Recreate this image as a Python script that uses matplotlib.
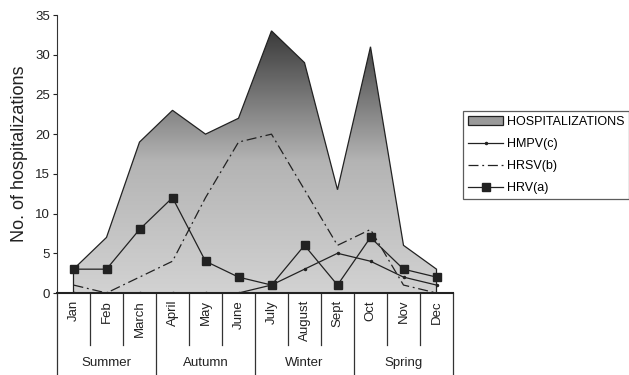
import numpy as np
import matplotlib.pyplot as plt
from matplotlib.patches import Polygon, Patch
from matplotlib.lines import Line2D
from matplotlib.colors import LinearSegmentedColormap
import matplotlib.transforms as mtransforms

plt.rcParams['font.family'] = ['Liberation Sans', 'DejaVu Sans']

months = ['Jan', 'Feb', 'March', 'April', 'May', 'June', 'July', 'August',
          'Sept', 'Oct', 'Nov', 'Dec']
seasons = ['Summer', 'Autumn', 'Winter', 'Spring']
hospitalizations = [3, 7, 19, 23, 20, 22, 33, 29, 13, 31, 6, 3]
hmpv = [0, 0, 0, 0, 0, 0, 1, 3, 5, 4, 2, 1]
hrsv = [1, 0, 2, 4, 12, 19, 20, 13, 6, 8, 1, 0]
hrv = [3, 3, 8, 12, 4, 2, 1, 6, 1, 7, 3, 2]

x = np.arange(len(months))

fig = plt.figure(figsize=(6.29, 3.75), dpi=100)
ax = fig.add_axes([57 / 629, 1 - 293 / 375, (453 - 57) / 629, (293 - 15) / 375])

# gradient filled area for hospitalizations
verts = [(x[0], 0)] + list(zip(x, hospitalizations)) + [(x[-1], 0)]
poly = Polygon(verts, closed=True, facecolor='none', edgecolor='#222222',
               linewidth=0.9, zorder=2)
ax.add_patch(poly)
cmap = LinearSegmentedColormap.from_list('g', ['#d2d2d2', '#b4b4b4', '#3a3a3a'])
grad = np.linspace(0, 1, 256).reshape(-1, 1)
img = ax.imshow(grad, cmap=cmap, origin='lower', aspect='auto',
                extent=[x[0], x[-1], 0, max(hospitalizations)], zorder=1)
img.set_clip_path(poly)

ax.plot(x, hmpv, color='#222222', linewidth=0.9, marker='o', markersize=1.5, zorder=3)
ax.plot(x, hrsv, color='#222222', linewidth=0.9, linestyle=(0, (8, 3, 1.5, 3)), zorder=3)
ax.plot(x, hrv, color='#222222', linewidth=0.9, marker='s', markersize=6, zorder=4)

ax.set_xlim(-0.5, 11.5)
ax.set_ylim(0, 35)
ax.set_yticks(range(0, 36, 5))
ax.tick_params(axis='y', labelsize=9.5, length=3, width=0.8, colors='#222222', pad=2)
ax.set_xticks([])
for s in ['top', 'right']:
    ax.spines[s].set_visible(False)
ax.spines['left'].set_color('#333333')
ax.spines['bottom'].set_color('#222222')
ax.spines['bottom'].set_linewidth(1.5)
ax.set_ylabel('No. of hospitalizations', fontsize=13, color='#222222', labelpad=5)

# category axis with month and season labels
trans = mtransforms.blended_transform_factory(ax.transData, ax.transAxes)
for i, m in enumerate(months):
    ax.text(i, -0.025, m, rotation=90, ha='center', va='top', fontsize=9.5,
            color='#222222', transform=trans)
for k in range(13):
    xs = k - 0.5
    bottom = -0.29 if k % 3 == 0 else -0.187
    ax.plot([xs, xs], [0, bottom], color='#333333', linewidth=0.9,
            transform=trans, clip_on=False)
for j, s in enumerate(seasons):
    ax.text(3 * j + 1, -0.252, s, ha='center', va='center', fontsize=9.5,
            color='#222222', transform=trans)

handles = [
    Patch(facecolor='#9a9a9a', edgecolor='#222222', linewidth=0.9),
    Line2D([], [], color='#222222', linewidth=0.9, marker='o', markersize=1.5),
    Line2D([], [], color='#222222', linewidth=0.9, linestyle=(0, (8, 3, 1.5, 3))),
    Line2D([], [], color='#222222', linewidth=0.9, marker='s', markersize=6),
]
labels = ['HOSPITALIZATIONS', 'HMPV(c)', 'HRSV(b)', 'HRV(a)']
leg = fig.legend(handles, labels, loc='upper left', bbox_to_anchor=(463 / 629, 1 - 111 / 375),
                 fontsize=9, frameon=True, fancybox=False, edgecolor='#333333',
                 handlelength=2.8, handleheight=0.7, handletextpad=0.3,
                 labelspacing=0.8, borderpad=0.4, borderaxespad=0)
leg.get_frame().set_linewidth(0.9)

fig.savefig('out.png', dpi=100)
